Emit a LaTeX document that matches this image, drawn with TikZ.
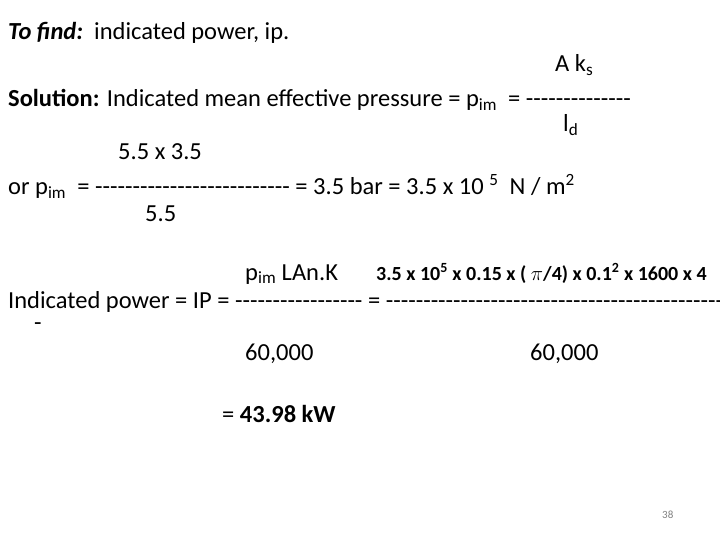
\documentclass[tikz,border=0pt]{standalone}
\usepackage{fontspec}
\setmainfont{Carlito}
\newcount\dashcnt
\newcommand\dashes[1]{\dashcnt=0 \loop -\kern0pt\advance\dashcnt 1 \ifnum\dashcnt<#1\repeat}
\begin{document}
\begin{tikzpicture}[x=1pt,y=-1pt,t/.style={anchor=base west,inner sep=0pt,font=\fontsize{24.5}{29}\selectfont},s/.style={anchor=base west,inner sep=0pt,font=\fontsize{20}{24}\selectfont\bfseries}]
\useasboundingbox (0,0) rectangle (720,540);
\node[t] (l1) at (8,40) {\textbf{\textit{To find:}}\ \ indicated power, ip.};
\node[t] (ak) at (555,72) {A k\textsubscript{s}};
\node[t] (l2) at (8,107) {\textbf{Solution:} Indicated mean effective pressure = p\textsubscript{im}\ \ = \dashes{14}};
\node[t] (ld) at (563,132) {l\textsubscript{d}};
\node[t] (n1) at (118,160) {5.5 x 3.5};
\node[t] (l3) at (8,195) {or p\textsubscript{im}\ \ = \dashes{26} = 3.5 bar = 3.5 x 10 \textsuperscript{5}\ \ N / m\textsuperscript{2}};
\node[t] (d1) at (145,222) {5.5};
\node[t] (n2) at (245,280) {p\textsubscript{im} LAn.K};
\node[s] (n3) at (376,280) {3.5 x 10\textsuperscript{5} x 0.15 x ( \(\pi\)/4) x 0.1\textsuperscript{2} x 1600 x 4};
\node[t] (l4) at (8,308) {Indicated power = IP = \dashes{17} = \dashes{45}};
\node[t] (l5) at (34,330) {-};
\node[t] (d2) at (245,360) {60,000};
\node[t] (d3) at (530,360) {60,000};
\node[t] (r) at (222,422) {= \textbf{43.98 kW}};
\node[anchor=base west,inner sep=0pt,font=\fontsize{11}{13}\selectfont,text=gray] (pg) at (662,518) {38};
\end{tikzpicture}
\end{document}
